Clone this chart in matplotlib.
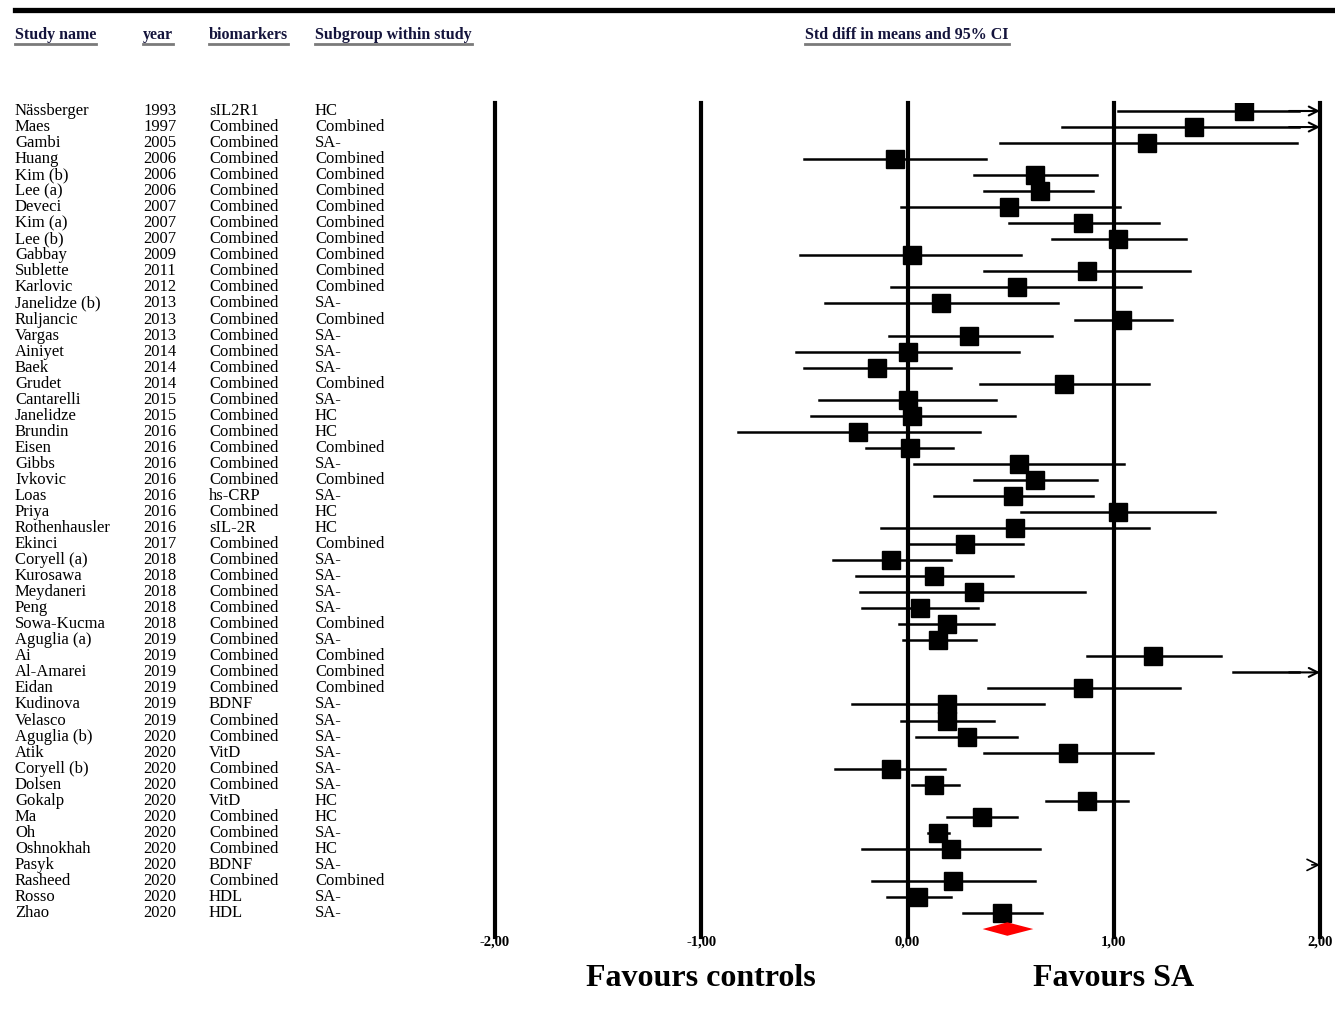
import numpy as np
import matplotlib
matplotlib.use("Agg")
import matplotlib.pyplot as plt
from matplotlib import transforms
from matplotlib.lines import Line2D

plt.rcParams["font.family"] = ["Liberation Serif", "DejaVu Serif"]

# ---- data ----
study = ["Nässberger", "Maes", "Gambi", "Huang", "Kim (b)", "Lee (a)", "Deveci", "Kim (a)",
         "Lee (b)", "Gabbay", "Sublette", "Karlovic", "Janelidze (b)", "Ruljancic", "Vargas",
         "Ainiyet", "Baek", "Grudet", "Cantarelli", "Janelidze", "Brundin", "Eisen", "Gibbs",
         "Ivkovic", "Loas", "Priya", "Rothenhausler", "Ekinci", "Coryell (a)", "Kurosawa",
         "Meydaneri", "Peng", "Sowa-Kucma", "Aguglia (a)", "Ai", "Al-Amarei", "Eidan",
         "Kudinova", "Velasco", "Aguglia (b)", "Atik", "Coryell (b)", "Dolsen", "Gokalp", "Ma",
         "Oh", "Oshnokhah", "Pasyk", "Rasheed", "Rosso", "Zhao"]
year = [1993, 1997, 2005, 2006, 2006, 2006, 2007, 2007, 2007, 2009, 2011, 2012, 2013, 2013,
        2013, 2014, 2014, 2014, 2015, 2015, 2016, 2016, 2016, 2016, 2016, 2016, 2016, 2017,
        2018, 2018, 2018, 2018, 2018, 2019, 2019, 2019, 2019, 2019, 2019, 2020, 2020, 2020,
        2020, 2020, 2020, 2020, 2020, 2020, 2020, 2020, 2020]
biomarker = ["sIL2R1"] + ["Combined"] * 23 + ["hs-CRP", "Combined", "sIL-2R"] + ["Combined"] * 10 + \
            ["BDNF", "Combined", "Combined", "VitD", "Combined", "Combined", "VitD", "Combined",
             "Combined", "Combined", "BDNF", "Combined", "HDL", "HDL"]
subgroup = ["HC", "Combined", "SA-", "Combined", "Combined", "Combined", "Combined", "Combined",
            "Combined", "Combined", "Combined", "Combined", "SA-", "Combined", "SA-", "SA-", "SA-",
            "Combined", "SA-", "HC", "HC", "Combined", "SA-", "Combined", "SA-", "HC", "HC",
            "Combined", "SA-", "SA-", "SA-", "SA-", "Combined", "SA-", "Combined", "Combined",
            "Combined", "SA-", "SA-", "SA-", "SA-", "SA-", "SA-", "HC", "HC", "SA-", "HC", "SA-",
            "Combined", "SA-", "SA-"]
effect = [1.63, 1.39, 1.16, -0.06, 0.62, 0.64, 0.49, 0.85, 1.02, 0.02, 0.87, 0.53, 0.16, 1.04,
          0.30, 0.00, -0.15, 0.76, 0.00, 0.02, -0.24, 0.01, 0.54, 0.62, 0.51, 1.02, 0.52, 0.28,
          -0.08, 0.13, 0.32, 0.06, 0.19, 0.15, 1.19, 2.30, 0.85, 0.19, 0.19, 0.29, 0.78, -0.08,
          0.13, 0.87, 0.36, 0.15, 0.21, 2.50, 0.22, 0.05, 0.46]
lower = [1.02, 0.75, 0.45, -0.50, 0.32, 0.37, -0.03, 0.49, 0.70, -0.52, 0.37, -0.08, -0.40, 0.81,
         -0.09, -0.54, -0.50, 0.35, -0.43, -0.47, -0.82, -0.20, 0.03, 0.32, 0.13, 0.55, -0.13,
         0.00, -0.36, -0.25, -0.23, -0.22, -0.04, -0.02, 0.87, 1.58, 0.39, -0.27, -0.03, 0.04,
         0.37, -0.35, 0.02, 0.67, 0.19, 0.10, -0.22, 2.05, -0.17, -0.10, 0.27]
upper = [2.40, 2.10, 1.89, 0.38, 0.92, 0.90, 1.03, 1.22, 1.35, 0.55, 1.37, 1.13, 0.73, 1.28,
         0.70, 0.54, 0.21, 1.17, 0.43, 0.52, 0.35, 0.22, 1.05, 0.92, 0.90, 1.49, 1.17, 0.56,
         0.21, 0.51, 0.86, 0.34, 0.42, 0.33, 1.52, 3.00, 1.32, 0.66, 0.42, 0.53, 1.19, 0.18,
         0.25, 1.07, 0.53, 0.20, 0.64, 3.00, 0.62, 0.21, 0.65]
summary = (0.364, 0.484, 0.610)  # lower, point, upper

ticks = [-2, -1, 0, 1, 2]
tick_labels = ["-2,00", "-1,00", "0,00", "1,00", "2,00"]

W, H = 1335, 1017
fig = plt.figure(figsize=(W / 100, H / 100), dpi=100)

# forest axes: x -2..2 -> px 495..1320, rows 0..50 -> px 111..913
x0, x1 = 495, 1320
ytop, ybot = 103, 937
ax = fig.add_axes([x0 / W, 1 - ybot / H, (x1 - x0) / W, (ybot - ytop) / H])
n = len(study)
row_px = (913 - 111) / (n - 1)
ax.set_xlim(-2, 2)
ax.set_ylim(n - 1 + (ybot - 913) / row_px, -(111 - ytop) / row_px)
for s in ax.spines.values():
    s.set_visible(False)
ax.set_yticks([])
ax.set_xticks(ticks)
ax.set_xticklabels(tick_labels, fontsize=10.5, fontweight="bold")
ax.tick_params(axis="x", length=0, pad=-1)

for t in ticks:
    ax.axvline(t, color="black", lw=3.0, clip_on=False, zorder=1)

ys = np.arange(n)
for i in range(n):
    lo, hi, e = lower[i], upper[i], effect[i]
    if lo >= 2:
        # whole interval beyond the axis: only an arrowhead at the edge
        ax.annotate("", xy=(2.0, ys[i]), xytext=(1.96, ys[i]),
                    arrowprops=dict(arrowstyle="->", lw=1.2, color="black",
                                    mutation_scale=20, shrinkA=0, shrinkB=0),
                    annotation_clip=False)
        continue
    if hi > 2:
        ax.plot([lo, 1.9], [ys[i], ys[i]], color="black", lw=1.8, zorder=2)
        ax.annotate("", xy=(2.0, ys[i]), xytext=(1.85, ys[i]),
                    arrowprops=dict(arrowstyle="->", lw=1.5, color="black",
                                    mutation_scale=16, shrinkA=0, shrinkB=0),
                    annotation_clip=False)
    else:
        ax.plot([lo, hi], [ys[i], ys[i]], color="black", lw=1.8, zorder=2)
    if e <= 2:
        ax.plot(e, ys[i], marker="s", markersize=13.5, color="black", zorder=3)

# summary diamond
ysum = n
slo, spt, shi = summary
ax.fill([slo, spt, shi, spt], [ysum, ysum - 0.42, ysum, ysum + 0.42], color="red",
        lw=0, zorder=3, clip_on=False)

# text columns
tr = transforms.blended_transform_factory(fig.transFigure, ax.transData)
cols = [(15, study), (143, year), (209, biomarker), (315, subgroup)]
for xpx, vals in cols:
    for i, v in enumerate(vals):
        ax.text(xpx / W, ys[i], str(v), transform=tr, fontsize=12, va="center",
                ha="left", clip_on=False)

# headers with underline
headers = [(15, "Study name", "left"), (143, "year", "left"), (209, "biomarkers", "left"),
           (315, "Subgroup within study", "left"), (907, "Std diff in means and 95% CI", "center")]
htexts = []
for xpx, label, ha in headers:
    htexts.append(fig.text(xpx / W, 1 - 35 / H, label, fontsize=11.5, fontweight="bold",
                           color="#14143c", ha=ha, va="center"))
fig.canvas.draw()
renderer = fig.canvas.get_renderer()
for t in htexts:
    bb = t.get_window_extent(renderer)
    yline = (bb.y0 - 1) / H
    fig.add_artist(Line2D([bb.x0 / W, bb.x1 / W], [yline, yline], color="#7a7a7a", lw=2.0,
                          transform=fig.transFigure))

# top rule
fig.add_artist(Line2D([15 / W, 1.0], [1 - 10 / H, 1 - 10 / H], color="black", lw=3.8,
                      transform=fig.transFigure))

# favours labels
fav_tr = transforms.blended_transform_factory(ax.transData, fig.transFigure)
ax.text(-1, 1 - 978 / H, "Favours controls", transform=fav_tr, fontsize=23,
        fontweight="bold", ha="center", va="center")
ax.text(1, 1 - 978 / H, "Favours SA", transform=fav_tr, fontsize=23,
        fontweight="bold", ha="center", va="center")

fig.savefig("out.png", dpi=100)
